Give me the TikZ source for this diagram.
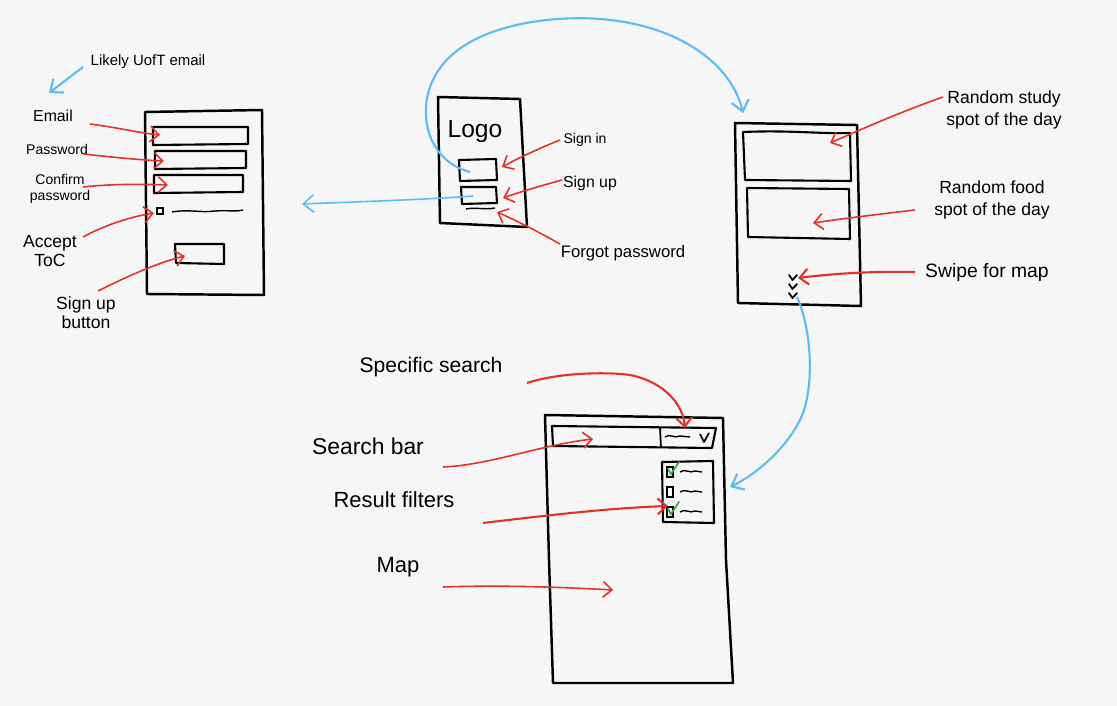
\documentclass[tikz,border=0pt]{standalone}
\usepackage{fontspec}
\setmainfont{Liberation Sans}
\usetikzlibrary{arrows.meta}
\definecolor{bg}{HTML}{F6F6F6}
\definecolor{sred}{HTML}{E2332B}
\definecolor{sblue}{HTML}{5BBDF0}
\definecolor{sgreen}{HTML}{3BA94A}
\tikzset{
  frame/.style={draw=black, line width=1.4pt, line join=round},
  field/.style={draw=black, line width=1.2pt, line join=round},
  lbl/.style={font=\fontsize{9}{10}\selectfont, align=center, inner sep=1pt},
  redarrow/.style={draw=sred, line width=0.9pt, -{Straight Barb[length=5pt,width=9pt]}},
  bluearrow/.style={draw=sblue, line width=1.2pt, -{Straight Barb[length=6pt,width=10pt]}},
  wavy/.style={draw=black, line width=0.8pt},
}
\begin{document}
\begin{tikzpicture}[x=0.02cm,y=-0.02cm]
\fill[bg] (0,0) rectangle (1117,706);
\useasboundingbox (0,0) rectangle (1117,706);

% ---------- Screen 1: sign-up form ----------
\draw[frame] (145,112) -- (262,110) -- (264,295) -- (147,294) -- cycle;
\draw[field] (153,127) -- (248,127) -- (248,144) -- (153,145) -- cycle;
\draw[field] (155,151) -- (246,151) -- (246,168) -- (155,169) -- cycle;
\draw[field] (154,175) -- (243,175) -- (243,192) -- (154,193) -- cycle;
\draw[line width=0.9pt] (157,208) rectangle (163,214);
\draw[wavy] (172,212) .. controls (190,209) and (200,213) .. (215,211) .. controls (228,210) and (235,212) .. (243,210);
\draw[field] (175,244) -- (224,244) -- (224,264) -- (176,263) -- cycle;
\coordinate (email) at (160,135);
\coordinate (pass) at (164,161);
\coordinate (conf) at (168,185);
\coordinate (chk) at (154,213);
\coordinate (btn) at (185,256);
\coordinate (uoft) at (49,93);

\node[lbl, font=\fontsize{8.5}{10}\selectfont] (tuoft) at (148,62) {Likely UofT email};
\node[lbl] (temail) at (53,116) {Email};
\node[lbl, font=\fontsize{8}{10}\selectfont] (tpass) at (57,149) {Password};
\node[lbl, font=\fontsize{8}{9}\selectfont] (tconf) at (60,189) {Confirm\\password};
\node[lbl, font=\fontsize{10}{11}\selectfont] (tacc) at (50,251) {Accept\\ToC};
\node[lbl, font=\fontsize{10}{11}\selectfont] (tbtn) at (86,313) {Sign up\\button};

\draw[bluearrow] (83,67) -- (uoft);
\draw[redarrow] (90,124) .. controls (120,128) and (140,133) .. (email);
\draw[redarrow] (84,154) .. controls (110,157) and (140,160) .. (pass);
\draw[redarrow] (83,187) .. controls (110,184) and (140,184) .. (conf);
\draw[redarrow] (83,237) .. controls (105,225) and (130,217) .. (chk);
\draw[redarrow] (98,291) .. controls (130,275) and (160,262) .. (btn);

% ---------- Screen 2: login ----------
\draw[frame] (438,97) -- (520,99) -- (527,227) -- (440,223) -- cycle;
\node[font=\fontsize{14}{15}\selectfont, inner sep=0pt] (logo) at (475,132) {Logo};
\draw[field] (459,160) -- (496,159) -- (497,180) -- (460,181) -- cycle;
\draw[field] (461,187) -- (496,187) -- (497,203) -- (462,204) -- cycle;
\draw[wavy] (466,209) .. controls (475,207) and (485,210) .. (495,208);
\coordinate (signin) at (502,167);
\coordinate (signup) at (503,198);
\coordinate (forgot) at (497,212);
\coordinate (signupsrc) at (473,196);
\coordinate (signinsrc) at (470,172);
\coordinate (form) at (302,204);

\node[lbl, font=\fontsize{8}{9}\selectfont] (tsignin) at (585,140) {Sign in};
\node[lbl, font=\fontsize{9}{10}\selectfont] (tsignup) at (590,183) {Sign up};
\node[lbl, font=\fontsize{9.5}{10}\selectfont] (tforgot) at (623,253) {Forgot password};

\draw[redarrow] (560,140) .. controls (535,150) and (515,160) .. (signin);
\draw[redarrow] (562,180) .. controls (540,186) and (520,192) .. (signup);
\draw[redarrow] (560,244) .. controls (535,230) and (515,220) .. (forgot);
\draw[bluearrow, line width=0.9pt] (signupsrc) .. controls (420,200) and (350,202) .. (form);

% ---------- Screen 3: home ----------
\draw[frame] (735,123) -- (857,125) -- (861,306) -- (738,303) -- cycle;
\draw[field] (743,132) .. controls (790,130) and (820,134) .. (850,133) -- (851,181) -- (745,180) -- cycle;
\draw[field] (747,188) -- (849,189) -- (850,239) -- (748,237) -- cycle;
\foreach \yy in {275,284,293}
  \draw[line width=1pt, line cap=round, line join=round] (789,\yy) -- (792.5,\yy+5) -- (797,\yy);
\coordinate (study) at (830,143);
\coordinate (food) at (813,223);
\coordinate (swipe) at (798,278);
\coordinate (swipesrc) at (797,297);
\coordinate (home) at (743,113);

\node[lbl, font=\fontsize{10}{13}\selectfont] (tstudy) at (1004,110) {Random study\\spot of the day};
\node[lbl, font=\fontsize{10}{13}\selectfont] (tfood) at (992,200) {Random food\\spot of the day};
\node[lbl, font=\fontsize{11}{12}\selectfont] (tswipe) at (987,273) {Swipe for map};

\draw[redarrow] (943,97) .. controls (900,112) and (860,130) .. (study);
\draw[redarrow] (915,210) .. controls (880,214) and (840,219) .. (food);
\draw[redarrow, line width=1.2pt] (915,272) .. controls (870,271) and (830,274) .. (swipe);
\draw[bluearrow] (signinsrc) .. controls (425,160) and (418,110) .. (433,80)
   .. controls (458,25) and (550,15) .. (600,19)
   .. controls (680,25) and (732,65) .. (home);

% ---------- Screen 4: map ----------
\draw[frame] (545,415) -- (723,418) -- (726,560) -- (733,683) -- (553,683) -- (549,560) -- cycle;
\draw[field] (552,426) -- (716,428) -- (712,448) -- (553,446) -- cycle;
\draw[line width=1pt] (660,427) -- (661,448);
\draw[wavy] (665,437) .. controls (670,433) and (674,439) .. (680,436) -- (690,437);
\draw[line width=1pt, line join=round] (700,434) -- (704,442) -- (709,433);
\draw[field] (662,462) -- (713,461) -- (714,523) -- (663,522) -- cycle;
\foreach \yy/\c in {467/1,487/0,507/1}{
  \draw[line width=0.9pt] (667,\yy) rectangle (673,\yy+10);
  \draw[wavy] (680,\yy+5) .. controls (685,\yy+1) and (690,\yy+7) .. (695,\yy+4) -- (702,\yy+5);
}
\draw[sgreen, line width=1pt, line cap=round] (668,469) -- (671,474) -- (679,462);
\draw[sgreen, line width=1pt, line cap=round] (668,509) -- (671,514) -- (679,502);
\coordinate (dropdown) at (685,428);
\coordinate (bar) at (593,439);
\coordinate (filters) at (668,506);
\coordinate (maparea) at (613,590);
\coordinate (mapscreen) at (730,487);

\node[lbl, font=\fontsize{12}{13}\selectfont] (tspec) at (431,367) {Specific search};
\node[lbl, font=\fontsize{13}{14}\selectfont] (tbar) at (368,446) {Search bar};
\node[lbl, font=\fontsize{12.5}{14}\selectfont] (tfilt) at (394,500) {Result filters};
\node[lbl, font=\fontsize{12.5}{14}\selectfont] (tmap) at (398,567) {Map};

\draw[redarrow, line width=1.2pt] (527,383) .. controls (560,372) and (610,372) .. (630,375)
   .. controls (665,382) and (683,405) .. (dropdown);
\draw[redarrow] (443,467) .. controls (490,465) and (540,445) .. (bar);
\draw[redarrow, line width=1.2pt] (483,523) .. controls (550,515) and (610,508) .. (filters);
\draw[redarrow] (443,587) .. controls (500,585) and (560,587) .. (maparea);
\draw[bluearrow] (swipesrc) .. controls (812,330) and (815,390) .. (800,420)
   .. controls (785,450) and (755,475) .. (mapscreen);
\end{tikzpicture}
\end{document}
